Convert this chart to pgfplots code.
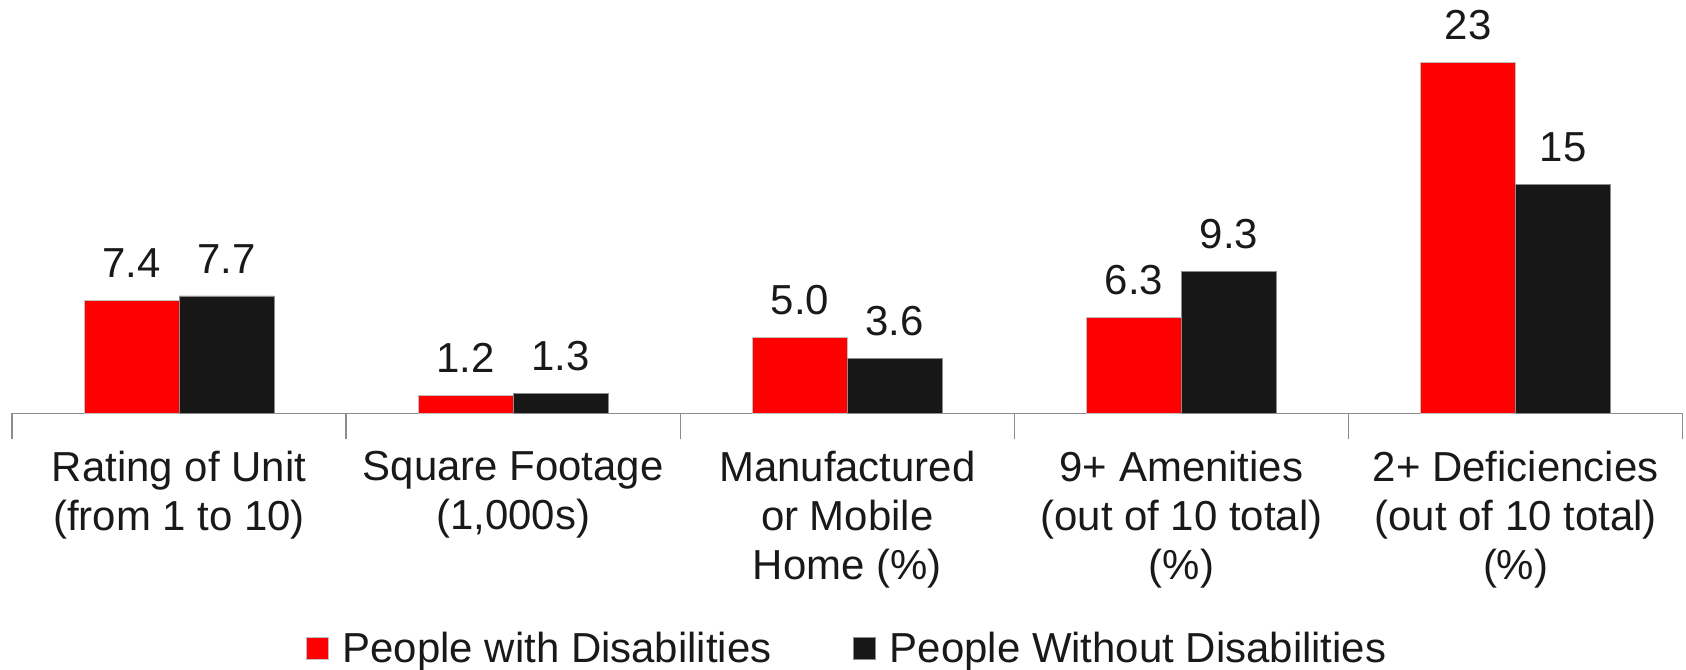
\documentclass[border=0pt]{standalone}
\usepackage{fontspec}
\setmainfont{Liberation Sans}
\usepackage{pgfplots}
\usepackage{pgfplotstable}
\pgfplotsset{compat=1.18}
\definecolor{barred}{HTML}{FF0000}
\definecolor{barblack}{HTML}{171717}
\definecolor{axgray}{HTML}{8C8C8C}
\pgfplotstableread{
x y lab
0 7.4 7.4
1 1.2 1.2
2 5.0 5.0
3 6.3 6.3
4 23 23
}\with
\pgfplotstableread{
x y lab
0 7.7 7.7
1 1.3 1.3
2 3.6 3.6
3 9.3 9.3
4 15 15
}\without
\begin{document}
\begin{tikzpicture}
\begin{axis}[
  scale only axis,
  width=1673pt, height=414pt,
  xmin=-0.5, xmax=4.5, ymin=0, ymax=27.1,
  ybar=0pt, bar width=95pt,
  axis x line*=bottom, axis y line=none,
  x axis line style={axgray, line width=1.5pt},
  xtick={0,1,2,3,4},
  major tick length=0pt,
  xticklabels={{Rating of Unit\\(from 1 to 10)},{Square Footage\\(1,000s)},{Manufactured\\or Mobile\\Home (\%)},{9+ Amenities\\(out of 10 total)\\(\%)},{2+ Deficiencies\\(out of 10 total)\\(\%)}},
  xticklabel style={align=center, font=\fontsize{42}{49}\selectfont, yshift=-34pt, text=black!90},
  extra x ticks={-0.5,0.5,1.5,2.5,3.5,4.5},
  extra x tick labels={},
  extra x tick style={major tick length=26pt, tick style={axgray, line width=1.5pt}},
  clip=false,
  point meta=explicit symbolic,
  nodes near coords,
  nodes near coords style={font=\fontsize{42}{49}\selectfont, text=black!90, yshift=19pt},
  legend style={at={(0.5,-0.568)}, anchor=center, draw=none, legend columns=2,
    font=\fontsize{42}{49}\selectfont, text=black!90,
    /tikz/every even column/.append style={column sep=80pt}},
  legend image code/.code={\fill[#1] (0pt,-11pt) rectangle (22pt,11pt); \path[draw=none,fill=none] (0pt,0pt) -- (34pt,0pt);},
]
\addplot[fill=barred, draw=black!25, line width=0.8pt] table[x=x, y=y, meta=lab] {\with};
\addplot[fill=barblack, draw=black!45, line width=0.8pt] table[x=x, y=y, meta=lab] {\without};
\legend{People with Disabilities, People Without Disabilities}
\end{axis}
\path ([xshift=-12pt]current axis.north west) rectangle ([xshift=1pt,yshift=-256pt]current axis.south east);
\end{tikzpicture}
\end{document}
